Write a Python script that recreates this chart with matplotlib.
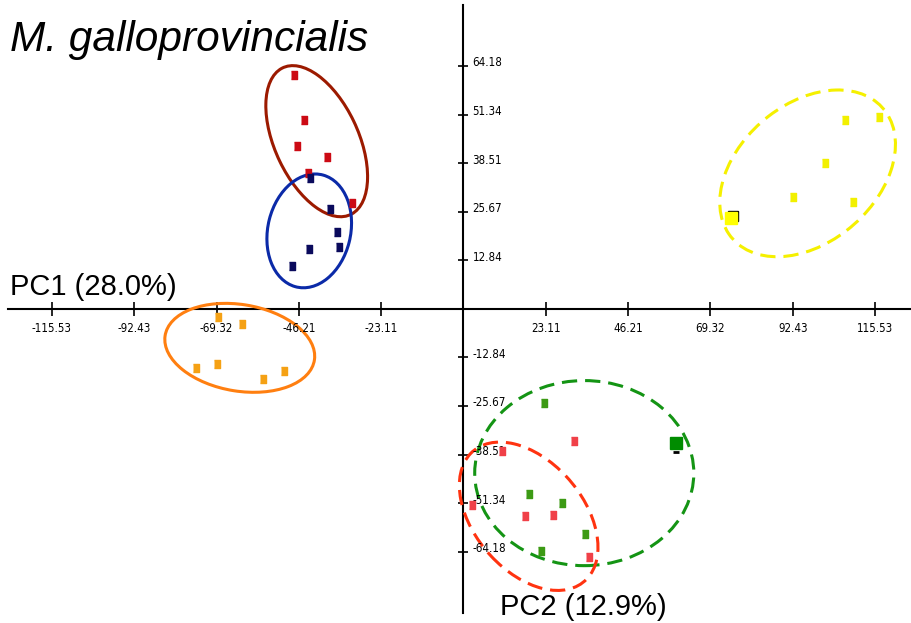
import matplotlib
matplotlib.use("Agg")
import matplotlib.pyplot as plt
from matplotlib.patches import Ellipse
from matplotlib.transforms import offset_copy

# PCA scores
red_x = [-47.6, -44.9, -46.7, -38.4, -43.7, -31.3]
red_y = [61.8, 50.0, 43.0, 40.2, 36.0, 28.0]
navy_x = [-43.0, -37.6, -35.4, -34.9, -43.4, -48.1]
navy_y = [34.6, 26.5, 20.2, 16.3, 15.7, 11.2]
orange_x = [-68.9, -62.3, -75.2, -69.2, -56.3, -50.5]
orange_y = [-2.2, -4.0, -15.7, -14.7, -18.6, -16.5]
yellow_x = [92.5, 101.5, 107.2, 116.6, 109.3]
yellow_y = [29.6, 38.6, 49.9, 50.7, 28.3]
yellow_big = (75.0, 23.9)
green_x = [22.6, 18.5, 27.6, 34.1, 21.9]
green_y = [-24.9, -48.8, -51.4, -59.4, -63.9]
green_big = (59.6, -35.4)
lred_x = [31.1, 10.7, 2.4, 17.3, 25.1, 35.1]
lred_y = [-35.0, -37.5, -51.8, -54.6, -54.4, -65.5]

# ellipses: center x, center y, width, height, angle
ell_red = (-41.2, 44.3, 43.2, 23.3, -63)
ell_navy = (-43.3, 20.6, 30.5, 23.2, 75)
ell_orange = (-62.8, -10.3, 42.4, 22.9, -8.5)
ell_yellow = (96.6, 35.8, 54.6, 37.3, 36)
ell_green = (33.9, -43.4, 61.5, 48.9, 0)
ell_lred = (18.3, -54.8, 46.5, 29.8, -45.5)

x_ticks = [-115.53, -92.43, -69.32, -46.21, -23.11, 23.11, 46.21, 69.32, 92.43, 115.53]
y_ticks = [-64.18, -51.34, -38.51, -25.67, -12.84, 12.84, 25.67, 38.51, 51.34, 64.18]

rect = [(-0.38, -0.5), (0.38, -0.5), (0.38, 0.5), (-0.38, 0.5)]

fig = plt.figure(figsize=(9.12, 6.23), dpi=100)
ax = fig.add_axes([0, 0, 1, 1])
ax.set_xlim(-130.1, 125.9)
ax.set_ylim(-83.0, 81.6)
ax.axis("off")

# axes through the origin
ax.plot([-127.9, 125.9], [0, 0], color="black", lw=1.5, zorder=1)
ax.plot([0, 0], [-80.3, 80.3], color="black", lw=1.5, zorder=1)
ax.plot(x_ticks, [0] * len(x_ticks), ls="none", marker="|", ms=9.5, mew=1.2, color="black")
ax.plot([0] * len(y_ticks), y_ticks, ls="none", marker="_", ms=7.5, mew=1.2, color="black")
for t in x_ticks:
    ax.annotate(f"{t:.2f}", (t, 0), xytext=(0, -14.4), textcoords="offset points",
                ha="center", va="center", fontsize=8.3, family="DejaVu Sans",
                fontstretch="condensed")
for t in y_ticks:
    ax.annotate(f"{t:.2f}", (0, t), xytext=(6.5, 2.2), textcoords="offset points",
                ha="left", va="center", fontsize=8.3, family="DejaVu Sans",
                fontstretch="condensed")

# points
ms = 6
ax.plot(red_x, red_y, ls="none", marker=rect, ms=ms, color="#cc0a14", zorder=3)
ax.plot(navy_x, navy_y, ls="none", marker=rect, ms=ms, color="#0a0a5c", zorder=3)
ax.plot(orange_x, orange_y, ls="none", marker=rect, ms=ms, color="#f5a114", zorder=3)
ax.plot(yellow_x, yellow_y, ls="none", marker=rect, ms=ms, color="#f2f000", zorder=3)
ax.plot(green_x, green_y, ls="none", marker=rect, ms=ms, color="#3c9a14", zorder=3)
ax.plot(lred_x, lred_y, ls="none", marker=rect, ms=ms, color="#f04048", zorder=3)

# highlighted points with their little black shadows
shift_ur = offset_copy(ax.transData, fig=fig, x=2.5, y=2.5, units="dots")
ax.plot(*yellow_big, ls="none", marker="s", ms=7.5, color="black", transform=shift_ur, zorder=3)
ax.plot(*yellow_big, ls="none", marker="s", ms=8, color="#ffff00", zorder=4)
shift_dn = offset_copy(ax.transData, fig=fig, x=0, y=-9, units="dots")
ax.plot(*green_big, ls="none", marker="_", ms=4.5, mew=2, color="black", transform=shift_dn, zorder=3)
ax.plot(*green_big, ls="none", marker="s", ms=8.5, color="#008c00", zorder=4)

# group ellipses
solid = [(ell_red, "#9c1a00"), (ell_navy, "#0b2aa8"), (ell_orange, "#ff7f10")]
dashed = [(ell_yellow, "#f5f000"), (ell_green, "#149414"), (ell_lred, "#ff3310")]
for (cx, cy, w, h, a), c in solid:
    ax.add_patch(Ellipse((cx, cy), w, h, angle=a, fill=False, ec=c, lw=2.2, zorder=2))
for (cx, cy, w, h, a), c in dashed:
    ax.add_patch(Ellipse((cx, cy), w, h, angle=a, fill=False, ec=c, lw=2.2,
                         ls=(0, (5, 2.6)), zorder=2))

fig.text(10 / 912, 1 - 51 / 623, "M. galloprovincialis", fontsize=30.5, style="italic",
         family="Liberation Sans", va="baseline", ha="left")
fig.text(10 / 912, 1 - 295 / 623, "PC1 (28.0%)", fontsize=21,
         family="Liberation Sans", va="baseline", ha="left")
fig.text(500 / 912, 1 - 615 / 623, "PC2 (12.9%)", fontsize=21,
         family="Liberation Sans", va="baseline", ha="left")

fig.savefig("out.png", dpi=100)
